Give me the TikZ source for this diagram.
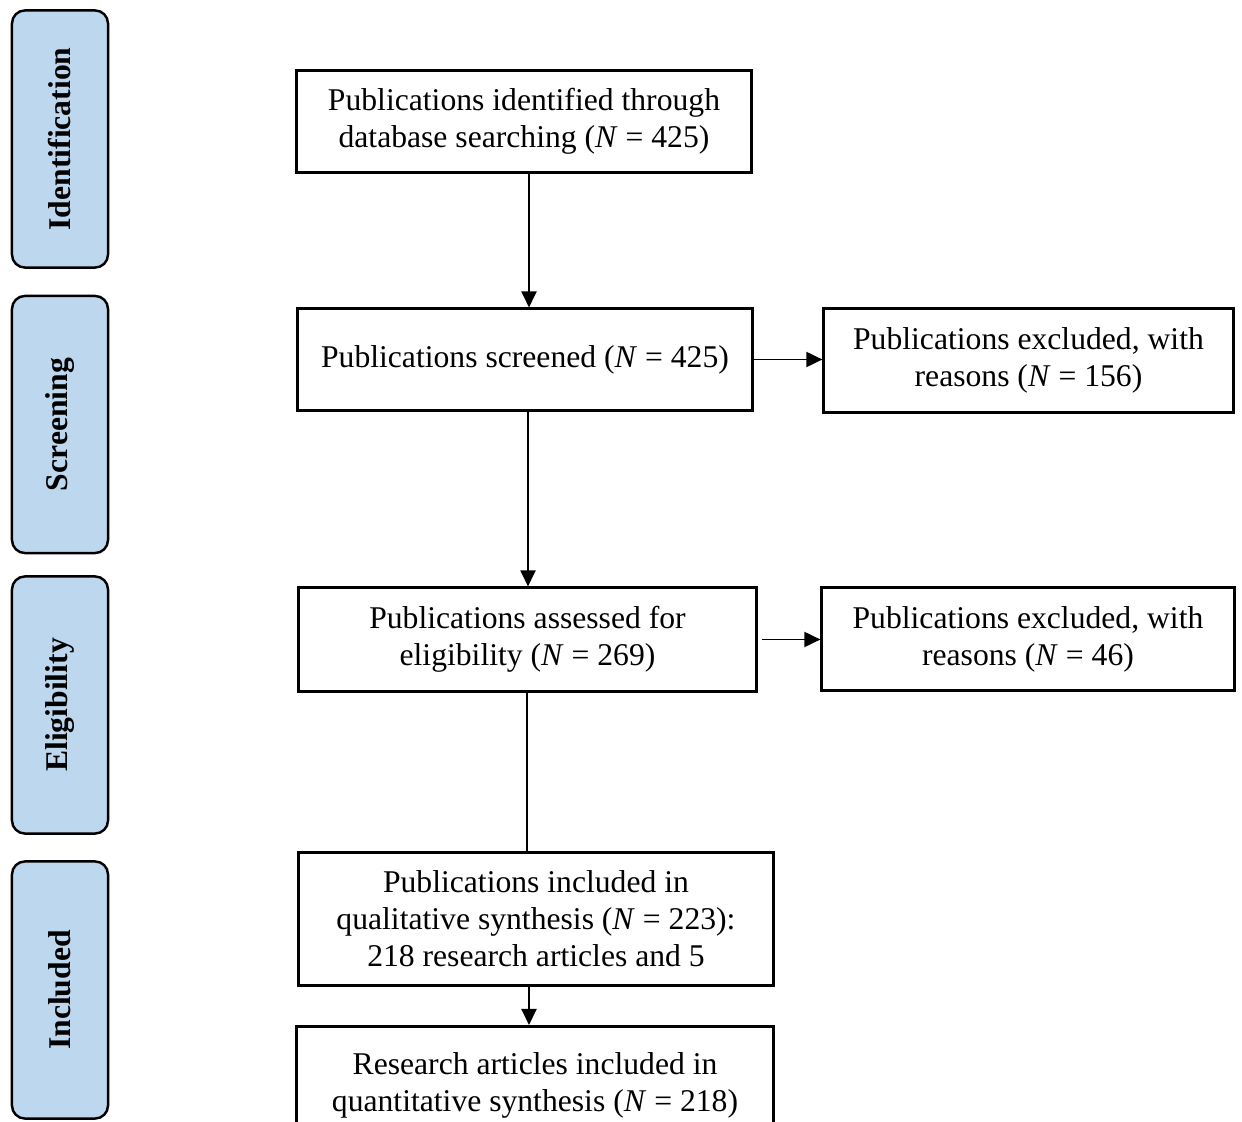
\documentclass[tikz,border=0pt]{standalone}
\usepackage{fontspec}
\setmainfont{Liberation Serif}
\usetikzlibrary{arrows.meta,positioning}
\definecolor{stagefill}{RGB}{189,215,238}
\tikzset{
stage/.style={draw,line width=.7pt,rounded corners=1.3mm,fill=stagefill,rotate=90,minimum width=2.57cm,minimum height=.96cm,font=\fontsize{9}{10.5}\selectfont\bfseries},
record/.style={draw,line width=.85pt,align=center,inner sep=0pt,font=\fontsize{9}{10.5}\selectfont},
flow/.style={-{Triangle[length=1.6mm,width=1.5mm]},line width=.55pt}
}

\begin{document}
\begin{tikzpicture}[x=.01cm,y=-.01cm]
\useasboundingbox (0,0) rectangle (1242,1122);
\clip (0,0) rectangle (1242,1122);
% stages
\node[stage](ident) at (60,139){Identification};
\node[stage](screen) at (60,424.5){Screening};
\node[stage](elig) at (60,705){Eligibility};
\node[stage](incl) at (60,990){Included};
% records
\node[record,minimum width=4.54cm,minimum height=1.01cm](found) at (524,121.5){Publications identified through\\database searching (\textit{N} = 425)};
\node[record,minimum width=4.54cm,minimum height=1.01cm](screened) at (525,359.5){Publications screened (\textit{N} = 425)};
\node[record,minimum width=4.09cm,minimum height=1.03cm](excl1) at (1028.5,360.5){Publications excluded, with\\reasons (\textit{N} = 156)};
\node[record,minimum width=4.57cm,minimum height=1.03cm](assessed) at (527.5,639.5){Publications assessed for\\eligibility (\textit{N} = 269)};
\node[record,minimum width=4.12cm,minimum height=1.02cm](excl2) at (1028,639){Publications excluded, with\\reasons (\textit{N} = 46)};
\node[record,minimum width=4.74cm,minimum height=1.32cm](qual) at (536,919){Publications included in\\qualitative synthesis (\textit{N} = 223):\\218 research articles and 5};
\node[record,minimum width=4.76cm,minimum height=1.18cm,anchor=north](quant) at (535,1025){Research articles included in\\quantitative synthesis (\textit{N} = 218)};
% connectors
\draw[flow](found.south -| 529,0)--(screened.north -| 529,0);
\draw[flow](screened.south -| 528,0)--(assessed.north -| 528,0);
\draw[flow](screened.east)--(excl1.west |- screened.east);
\draw[flow]([xshift=.04cm]assessed.east)--(excl2.west |- assessed.east);
\draw[line width=.55pt](assessed.south -| 527,0)--(qual.north -| 527,0);
\draw[flow](qual.south -| 529,0)--(quant.north -| 529,0);
\end{tikzpicture}
\end{document}
